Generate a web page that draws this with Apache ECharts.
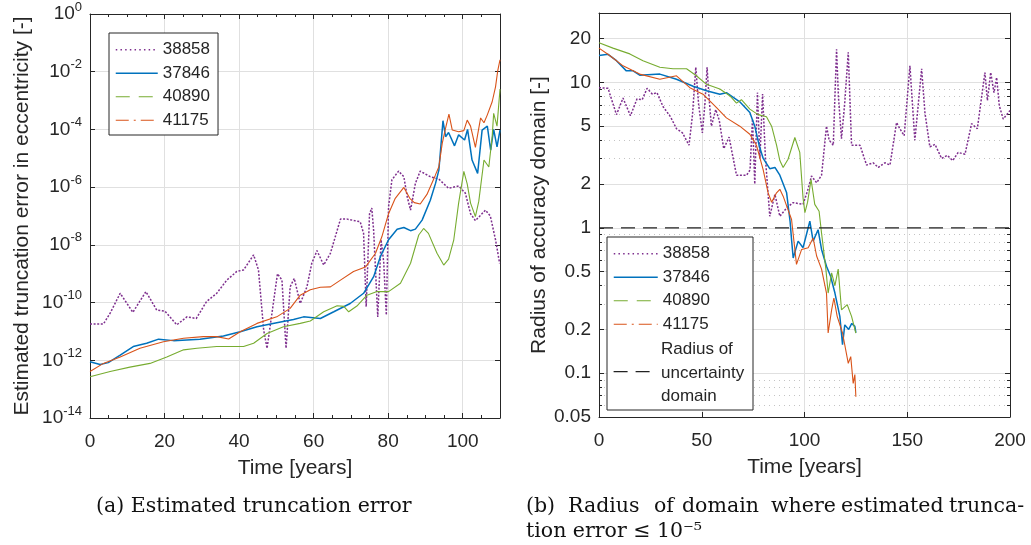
<!DOCTYPE html>
<html>
<head>
<meta charset="utf-8">
<script src="https://cdn.jsdelivr.net/npm/echarts@6/dist/echarts.min.js"></script>
<style>
  html, body { margin: 0; padding: 0; background: #fff; }
  #main { width: 1031px; height: 545px; }
</style>
</head>
<body>
<div id="main"></div>
<script>
// (a) estimated truncation error in eccentricity, [time in years, error]
var err38858 = [[0,1.8e-11],[3.6,1.8e-11],[5.4,4.3e-11],[8.1,2.1e-10],[11.5,4.6e-11],[15,2.4e-10],[17.9,5.5e-11],[20.1,5e-11],[23.3,1.7e-11],[26,3.2e-11],[28.5,2.8e-11],[31.3,1.1e-10],[34,2.1e-10],[36.7,6e-10],[39.4,1.2e-9],[41.2,1.35e-9],[43.9,4.5e-9],[45.2,1.35e-9],[46.6,1.1e-11],[47.5,2.6e-12],[49,6.3e-11],[50.3,1e-9],[51.5,6e-10],[52.6,2.6e-12],[53.7,3.5e-10],[54.8,6.9e-10],[56.4,9.3e-11],[58.2,3.5e-10],[59.5,2.3e-9],[60.9,6.3e-9],[62.7,2e-9],[64.5,5.1e-9],[67.2,7.8e-8],[69,7.8e-8],[72.5,6.3e-8],[73.4,2.5e-8],[74.1,7.2e-11],[75,1.2e-7],[75.6,1.9e-7],[76.1,3.1e-8],[77.2,3.2e-11],[78.1,1.5e-8],[78.8,2.5e-9],[79.5,3.7e-11],[80.1,2.1e-7],[81,1.8e-6],[82.8,3.6e-6],[84.2,2.3e-6],[85.1,4.7e-7],[86,1.6e-7],[87.3,1.35e-6],[88.6,3.6e-6],[91.3,2.3e-6],[93.6,1.9e-6],[96.2,9.1e-7],[98.9,1.1e-6],[100.7,6.2e-7],[102.1,1.2e-7],[103.4,6.9e-8],[106.1,1.6e-7],[107.4,1e-7],[108.8,1.5e-8],[109.9,2.3e-9]];
var err37846 = [[0,8.9e-13],[2.7,7.2e-13],[4.9,8.3e-13],[8.1,1.5e-12],[11.6,3e-12],[15.2,3.9e-12],[18.4,5.4e-12],[22.4,4.8e-12],[29.5,5.4e-12],[35.8,6.9e-12],[40.3,9.8e-12],[44.8,1.45e-11],[50.1,2e-11],[54.6,2.6e-11],[57.3,3.2e-11],[61.8,2.8e-11],[65.4,4.8e-11],[69.8,9.3e-11],[73.4,2.1e-10],[76.1,7.9e-10],[77.9,3.9e-9],[80.1,1.5e-8],[82.4,3.5e-8],[84.2,4e-8],[86,3.1e-8],[87.3,3.5e-8],[89.1,7.2e-8],[91.3,3.5e-7],[92.7,1.35e-6],[93.6,3.9e-6],[94.2,3.3e-5],[94.7,2e-4],[95.4,5.6e-5],[96.2,7.8e-5],[97.8,2.7e-5],[98.9,6.5e-5],[100.5,4.3e-5],[101.3,1e-4],[102.5,8.7e-6],[104,3e-6],[105.2,9.5e-5],[106.6,1.3e-4],[107.5,1.9e-5],[108.3,1e-4],[109.2,2.5e-5],[110,9.5e-5]];
var err40890 = [[0,2.7e-13],[5.4,4.1e-13],[10.7,5.8e-13],[16.1,7.8e-13],[20.6,1.3e-12],[25.1,2.3e-12],[28.7,2.6e-12],[34,3e-12],[41.2,3e-12],[43.9,3.9e-12],[47.5,8.5e-12],[51.9,1.45e-11],[56.4,1.9e-11],[59.1,2.3e-11],[62.7,4.8e-11],[66.3,7.8e-11],[68.1,7.4e-11],[69.4,4.8e-11],[71.6,7.6e-11],[74.3,1.8e-10],[77,2.4e-10],[80.1,2.4e-10],[83.3,4.7e-10],[86,2.3e-9],[88.2,2.2e-8],[89.5,3.7e-8],[90.8,2.5e-8],[93.1,5.1e-9],[94.9,2e-9],[96.2,3.2e-9],[97.6,1.5e-8],[98.9,2.8e-7],[100.3,3.5e-6],[101.2,1.3e-6],[102.1,2.8e-7],[103.4,9.5e-8],[104.3,3.2e-7],[105.7,8.7e-6],[107,5e-6],[107.9,5.6e-5],[108.3,3.6e-4],[109.2,1.3e-4],[110,2.5e-3]];
var err41175 = [[0,4.1e-13],[3.6,7.8e-13],[8.1,1.3e-12],[13.4,2.6e-12],[19.7,4.4e-12],[25.1,5.8e-12],[30.4,6.6e-12],[34,6.6e-12],[37.2,5.5e-12],[40.3,9.8e-12],[44.8,1.9e-11],[50.1,3.2e-11],[53.7,6.3e-11],[56.4,1.8e-10],[59.1,2.8e-10],[61.8,3.4e-10],[64.5,3.5e-10],[67.2,6e-10],[70.7,1.2e-9],[73.9,1.7e-9],[76.6,5.1e-9],[78.3,1.9e-8],[80.1,1.2e-7],[81.9,4.1e-7],[84.2,9.8e-7],[85.8,4.1e-7],[87,2.9e-7],[88.6,2.6e-7],[90.4,5.6e-7],[92.6,2.5e-6],[93.6,5.1e-6],[94.5,3.3e-5],[95.4,1.1e-4],[96.3,3.4e-4],[97.2,9.5e-5],[98.9,8.3e-5],[100.3,9.1e-5],[101.2,2.1e-4],[102.1,1.3e-4],[103.4,2.4e-5],[104.8,2.5e-4],[105.7,1.7e-4],[106.6,3.2e-4],[107.9,9.1e-4],[108.8,3e-3],[109.4,1.1e-2],[110,2.6e-2]];

// (b) radius of accuracy domain, [time in years, radius]
var rad38858 = [[0,9.2],[4.4,9.1],[8.5,6],[11.7,7.8],[15.3,5.9],[18.5,7.7],[21,7.6],[23.4,9.1],[26,8.3],[28.2,8.5],[31.2,6.8],[34.8,5.8],[37.7,4.8],[40.6,4.5],[43.8,3.7],[45.5,6],[47.1,12.7],[48.5,7],[50.3,4.5],[51.5,7],[52.6,12.7],[53.5,8],[54.7,5],[56.8,6.5],[58.5,5.5],[60.7,3.5],[63.3,4.2],[66.9,2.3],[71.8,2.3],[73.5,2.5],[74.7,5.6],[75.8,2],[77.1,8.5],[78.3,3],[79.6,8.3],[81,3],[83.1,1.2],[85.6,1.7],[88,1.2],[91.3,1.37],[94.5,1.49],[99.3,1.45],[101.5,1.8],[103.4,2.27],[105.9,2.04],[108.3,2.3],[110.7,5],[112,4],[114,3.7],[115.6,16.9],[116.5,8],[118,4.1],[119.5,7],[121.3,16.1],[122.9,3.7],[127,3.7],[130.2,2.7],[133.4,2.8],[135.9,2.6],[139.1,2.8],[141.6,2.7],[144.8,5.3],[146.4,4.8],[148.5,4.3],[151.3,13],[153.7,4],[157,12.4],[158.6,6.2],[161,3.6],[163.5,3.75],[166.7,3],[169.5,3.15],[172.1,2.9],[174.8,3.3],[178.1,3.2],[181.3,5.2],[184.1,4.8],[187.8,11.7],[189,7.5],[190.6,11.7],[192.2,8.5],[193.5,10.8],[194.8,6.9],[196.7,5.6],[200,6.4]];
var rad37846 = [[0,15.3],[4.4,15.6],[8.5,14.1],[13.3,12],[16.6,12],[19.8,11.2],[29.6,11.4],[37.7,10.5],[45.8,9.4],[52.3,8.75],[58.8,8.3],[62,8.5],[68.5,7.35],[73.4,6.2],[75.8,5],[77.9,3.7],[79.9,3],[83.1,2.55],[85.6,2.6],[88,2.3],[91.3,1.74],[93,1.1],[93.7,0.83],[94.5,0.62],[96.9,0.81],[99.3,0.73],[102.6,1.11],[104.2,0.81],[106.6,0.97],[108.3,0.71],[110.7,0.544],[112.7,0.464],[114.8,0.356],[117.2,0.246],[118.5,0.157],[119.6,0.215],[121.5,0.2],[123,0.22],[124.5,0.21],[125,0.19]];
var rad40890 = [[0,18.7],[6.8,17.2],[15,15.7],[21.4,14.1],[29.6,12.7],[36,12.4],[42.6,12.4],[47.4,11.1],[52.3,9.7],[58.8,9],[63.6,8.1],[66.9,7.2],[69.3,7.6],[73.4,6.55],[77.4,6],[81.5,5.8],[84,5],[86.4,3.7],[88,2.9],[89.6,2.6],[92,2.96],[95.3,4.18],[97.7,3.3],[99.3,1.6],[100.2,1.27],[101.5,1.5],[103.2,2.15],[105,1.45],[107.1,1.3],[108.3,0.92],[110.4,0.52],[111.5,0.356],[113.2,0.49],[114.8,0.4],[116.4,0.52],[118,0.273],[120.8,0.296],[122.9,0.246],[125,0.189]];
var rad41175 = [[0,17.2],[5.2,15.3],[11.7,13],[19.8,11.4],[29.6,10.5],[37.7,11.1],[44.2,9.2],[50.6,8.3],[57.2,6.7],[62,5.7],[68.5,5],[73.4,4.4],[76.6,3.7],[79.9,2.5],[82.3,1.74],[84,1.5],[86.4,1.74],[88,1.84],[89.6,1.65],[93.7,1.14],[95.3,0.71],[96.1,0.56],[98.6,0.71],[101.8,0.73],[104.2,0.85],[105.9,0.64],[108.3,0.52],[110.7,0.356],[111.5,0.189],[113.2,0.273],[114.3,0.329],[115.9,0.246],[118.5,0.189],[121.3,0.117],[122.5,0.13],[123.7,0.085],[124.5,0.098],[125,0.069]];
var radUncertainty = [[0,1],[200,1]];

// tick values of the (b) log axis
var radMajorTicks = [0.05, 0.1, 0.2, 0.5, 1, 2, 5, 10, 20];
var radMinorTicks = [0.06, 0.07, 0.08, 0.09, 0.3, 0.4, 0.6, 0.7, 0.8, 0.9, 3, 4, 6, 7, 8, 9];

var FONT = 'Liberation Sans, Arial, Helvetica, sans-serif';
var SERIF = '20.5px "DejaVu Serif", serif';
var INK = '#262626';
var GRIDC = '#e0e0e0';
var C_PURPLE = '#7E2F8E', C_BLUE = '#0072BD', C_GREEN = '#77AC30', C_ORANGE = '#D95319';
var UNC_NAME = 'Radius of uncertainty domain';
var UNC_LINES = ['Radius of', 'uncertainty', 'domain'];

var myChart = echarts.init(document.getElementById('main'));

function boxAxis(extra) {
  var base = {
    axisLine: { show: true, onZero: false, lineStyle: { color: INK, width: 1 } },
    axisTick: { show: true, inside: true, length: 5, lineStyle: { color: INK } },
    axisLabel: { show: false },
    splitLine: { show: false }
  };
  return echarts.util.merge(base, extra, true);
}

var lab = { color: INK, fontSize: 19, fontFamily: FONT };
var nameStyle = { color: INK, fontSize: 21, fontFamily: FONT };

function line(name, data, color, width, xi, yi, dash) {
  return {
    name: name, type: 'line', data: data, xAxisIndex: xi, yAxisIndex: yi,
    symbol: 'none', animation: false,
    lineStyle: { color: color, width: width, type: dash || 'solid' },
    itemStyle: { color: color }
  };
}

function caption(text, x, y) {
  return { type: 'text', left: x, top: y, style: { text: text, font: SERIF, fill: '#111' } };
}

var legendText = { color: INK, fontSize: 17, fontFamily: FONT, lineHeight: 23.5 };
var legendItems = [
  { name: '38858', lineStyle: { type: [1.5, 3.2], width: 1.5 } },
  { name: '37846', lineStyle: { type: 'solid', width: 1.3 } },
  { name: '40890', lineStyle: { type: [14, 9], width: 1.2 } },
  { name: '41175', lineStyle: { type: [13, 5, 2, 5], width: 1.2 } }
];

var graphics = [
  { type: 'rect', z: 3, shape: { x: 607, y: 237, width: 146, height: 173 },
    style: { fill: '#fff', stroke: INK, lineWidth: 1 } },
  caption('(a) Estimated truncation error', 96, 496),
  caption('(b)', 526, 496),
  caption('Radius', 568, 496),
  caption('of', 654, 496),
  caption('domain', 682, 496),
  caption('where', 771, 496),
  caption('estimated', 841, 496),
  caption('trunca-', 949, 496),
  caption('tion error \u2264 10\u207B\u2075', 526, 521)
];
// the three-line legend label of the uncertainty radius
UNC_LINES.forEach(function (s, i) {
  graphics.push({
    type: 'text', z: 5, x: 661, y: 349.5 + i * 23.5,
    style: { text: s, fill: INK, font: '17px ' + FONT, verticalAlign: 'middle', align: 'left' }
  });
});

myChart.setOption({
  backgroundColor: '#fff',
  animation: false,
  grid: [
    { left: 90, top: 14, width: 410, height: 404 },
    { left: 599, top: 13, width: 411, height: 404 }
  ],
  xAxis: [
    boxAxis({
      type: 'value', gridIndex: 0, position: 'bottom', min: 0, max: 110, interval: 20,
      minorTick: { show: true, splitNumber: 4, length: 3, lineStyle: { color: INK } },
      axisLabel: { show: true, margin: 14, showMaxLabel: false, textStyle: lab },
      splitLine: { show: true, lineStyle: { color: GRIDC } },
      name: 'Time [years]', nameLocation: 'middle', nameGap: 40, nameTextStyle: nameStyle
    }),
    boxAxis({
      type: 'value', gridIndex: 0, position: 'top', min: 0, max: 110, interval: 20,
      minorTick: { show: true, splitNumber: 4, length: 3, lineStyle: { color: INK } }
    }),
    boxAxis({
      type: 'value', gridIndex: 1, position: 'bottom', min: 0, max: 200, interval: 50,
      axisLabel: { show: true, margin: 14, textStyle: lab },
      splitLine: { show: true, lineStyle: { color: GRIDC } },
      name: 'Time [years]', nameLocation: 'middle', nameGap: 40, nameTextStyle: nameStyle
    }),
    boxAxis({ type: 'value', gridIndex: 1, position: 'top', min: 0, max: 200, interval: 50 })
  ],
  yAxis: [
    boxAxis({
      type: 'log', logBase: 10, gridIndex: 0, position: 'left', min: 1e-14, max: 1, interval: 2,
      axisLabel: {
        show: true, margin: 8,
        formatter: function (v) { return '{b|10}{s|' + Math.round(Math.log10(v)) + '}'; },
        rich: {
          b: { fontSize: 19, fontFamily: FONT, color: INK },
          s: { fontSize: 13, fontFamily: FONT, color: INK, padding: [0, 0, 14, 0] }
        }
      },
      splitLine: { show: true, lineStyle: { color: GRIDC } },
      name: 'Estimated truncation error in eccentricity [-]', nameLocation: 'middle',
      nameGap: 57, nameRotate: 90, nameTextStyle: nameStyle
    }),
    boxAxis({ type: 'log', logBase: 10, gridIndex: 0, position: 'right', min: 1e-14, max: 1, interval: 2 }),
    boxAxis({
      type: 'log', logBase: 10, gridIndex: 1, position: 'left', min: 0.05, max: 30,
      axisTick: { customValues: radMajorTicks },
      axisLabel: {
        show: true, margin: 8, customValues: radMajorTicks, textStyle: lab,
        formatter: function (v) { return String(+(+v).toPrecision(2)); }
      },
      splitLine: { show: true, lineStyle: { color: GRIDC } },
      name: 'Radius of accuracy domain [-]', nameLocation: 'middle',
      nameGap: 48, nameRotate: 90, nameTextStyle: nameStyle
    }),
    boxAxis({
      type: 'log', logBase: 10, gridIndex: 1, position: 'left', min: 0.05, max: 30,
      axisLine: { show: false },
      axisTick: { customValues: radMinorTicks, length: 3 },
      splitLine: { show: true, lineStyle: { color: '#c4c4c4', type: [1, 4], width: 1 } }
    }),
    boxAxis({
      type: 'log', logBase: 10, gridIndex: 1, position: 'right', min: 0.05, max: 30,
      axisTick: { customValues: radMajorTicks }
    }),
    boxAxis({
      type: 'log', logBase: 10, gridIndex: 1, position: 'right', min: 0.05, max: 30,
      axisLine: { show: false },
      axisTick: { customValues: radMinorTicks, length: 3 }
    })
  ],
  legend: [
    {
      left: 109, top: 33, orient: 'vertical', itemGap: 0, itemWidth: 42, itemHeight: 14,
      padding: [5, 8, 3, 6], backgroundColor: '#fff', borderColor: INK, borderWidth: 1,
      itemStyle: { opacity: 0 },
      textStyle: legendText, data: legendItems, selectedMode: false
    },
    {
      left: 613, top: 242, orient: 'vertical', itemGap: 0, itemWidth: 44, itemHeight: 14,
      padding: 0, itemStyle: { opacity: 0 },
      textStyle: legendText, data: legendItems, selectedMode: false
    },
    {
      left: 613, top: 366, orient: 'vertical', itemWidth: 44, itemHeight: 14,
      padding: 0, itemStyle: { opacity: 0 }, selectedMode: false,
      formatter: function () { return ''; },
      textStyle: legendText,
      data: [{ name: UNC_NAME, lineStyle: { type: [14, 8], width: 1.2 } }]
    }
  ],
  graphic: graphics,
  series: [
    line('38858', err38858, C_PURPLE, 1.5, 0, 0, [2, 1.6]),
    line('37846', err37846, C_BLUE, 1.5, 0, 0),
    line('40890', err40890, C_GREEN, 1.1, 0, 0),
    line('41175', err41175, C_ORANGE, 1.1, 0, 0),
    line('38858', rad38858, C_PURPLE, 1.5, 2, 2, [2, 1.6]),
    line('37846', rad37846, C_BLUE, 1.5, 2, 2),
    line('40890', rad40890, C_GREEN, 1.1, 2, 2),
    line('41175', rad41175, C_ORANGE, 1.1, 2, 2),
    line(UNC_NAME, radUncertainty, '#222', 1.3, 2, 2, [14, 8])
  ]
});
</script>
</body>
</html>
